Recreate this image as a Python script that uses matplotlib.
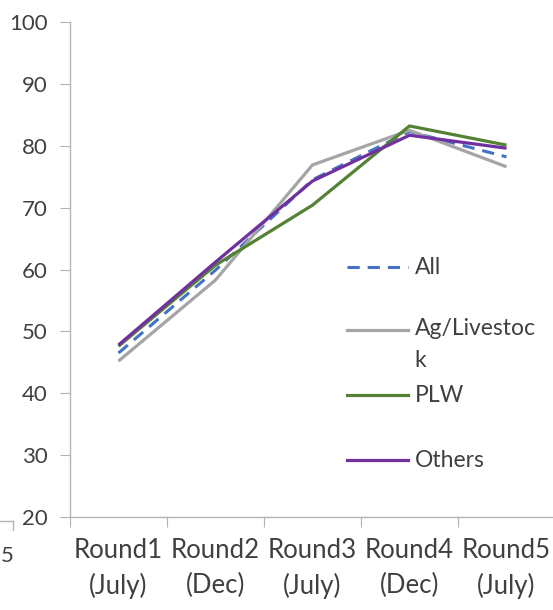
import matplotlib
matplotlib.use("Agg")
import matplotlib.pyplot as plt
from matplotlib.lines import Line2D

plt.rcParams['font.family'] = ['Lato', 'DejaVu Sans']

categories = ["Round1\n(July)", "Round2\n(Dec)", "Round3\n(July)", "Round4\n(Dec)", "Round5\n(July)"]
series_names = ["All", "Ag/Livestoc\nk", "PLW", "Others"]
all_vals = [46.5, 59.9, 74.5, 82.3, 78.2]
ag_vals = [45.2, 58.3, 76.9, 82.5, 76.6]
plw_vals = [47.6, 60.7, 70.4, 83.2, 80.1]
others_vals = [47.8, 61.2, 74.3, 81.7, 79.6]
y_ticks = [20, 30, 40, 50, 60, 70, 80, 90, 100]

styles = [
    dict(color="#4472C4", lw=2.2, ls=(0, (4.0, 2.6))),
    dict(color="#A5A5A5", lw=2.3, ls="-"),
    dict(color="#548235", lw=2.3, ls="-"),
    dict(color="#7030A0", lw=2.3, ls="-"),
]
values = [all_vals, ag_vals, plw_vals, others_vals]

fig = plt.figure(figsize=(5.53, 6.10), dpi=100)
ax = fig.add_axes([70/553, 1-517/610, 485/553, 495/610])

x = list(range(len(categories)))
for v, st in zip(values, styles):
    ax.plot(x, v, solid_capstyle='butt', dash_capstyle='butt', **st)

ax.set_xlim(-0.5, len(categories) - 0.5)
ax.set_ylim(20, 100)
ax.set_yticks(y_ticks)
ax.set_yticklabels([str(t) for t in y_ticks])

ax.set_xticks([i - 0.5 for i in range(len(categories) + 1)])
ax.set_xticklabels([])
ax.set_xticks(x, minor=True)
ax.set_xticklabels(categories, minor=True)

axis_col = "#B3B3B3"
text_col = "#404040"
for s in ["top", "right"]:
    ax.spines[s].set_visible(False)
for s in ["left", "bottom"]:
    ax.spines[s].set_color(axis_col)
    ax.spines[s].set_linewidth(1.0)
ax.tick_params(axis='y', which='major', direction='out', length=7, color=axis_col,
               labelsize=16, labelcolor=text_col, pad=9)
ax.tick_params(axis='x', which='major', direction='out', length=7, color=axis_col)
ax.tick_params(axis='x', which='minor', length=0, labelsize=18.5, labelcolor=text_col, pad=15)
for lbl in ax.get_xticklabels(minor=True):
    lbl.set_linespacing(1.5)

# manual legend
leg_y = [0.505, 0.378, 0.246, 0.115]
for name, st, yy in zip(series_names, styles, leg_y):
    ax.add_line(Line2D([0.571, 0.697], [yy, yy], transform=ax.transAxes, **st))
    multi = '\n' in name
    ax.text(0.711, yy + (0.024 if multi else 0), name, transform=ax.transAxes,
            fontsize=16.5, color=text_col, va='top' if multi else 'center',
            linespacing=1.65)

# fragment of neighbouring chart at left edge
fig.add_artist(Line2D([0, 13/553], [1-521/610, 1-521/610], color=axis_col, lw=1.0))
fig.add_artist(Line2D([13/553, 13/553], [1-521/610, 1-530/610], color=axis_col, lw=1.0))
fig.text(0.5/553, 1-556/610, "5", fontsize=16, color=text_col, va='center', ha='left')

fig.savefig("out.png", dpi=100)
